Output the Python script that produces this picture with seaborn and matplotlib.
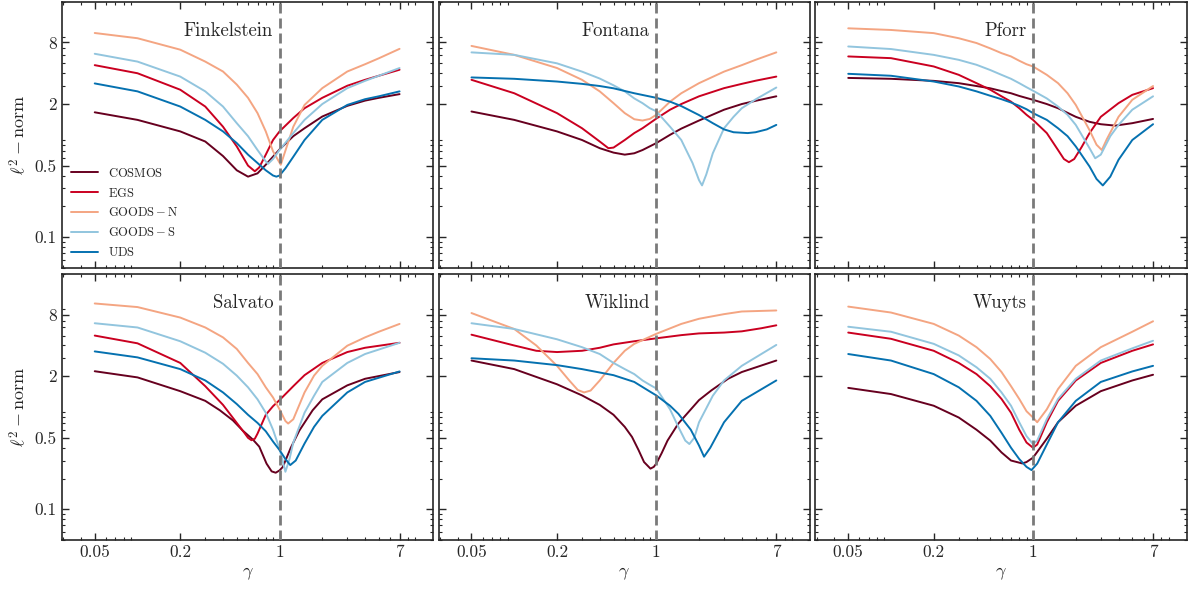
import numpy as np
import pandas as pd
import matplotlib
matplotlib.use("Agg")
import matplotlib.pyplot as plt
from matplotlib.ticker import FixedLocator, LogLocator, NullFormatter
import seaborn as sns

# ---------------- data ----------------
FIELDS = ["COSMOS", "EGS", "GOODS-N", "GOODS-S", "UDS"]
LABELS = [r"$\mathrm{COSMOS}$", r"$\mathrm{EGS}$", r"$\mathrm{GOODS-N}$",
          r"$\mathrm{GOODS-S}$", r"$\mathrm{UDS}$"]
COLORS = ["#67001f", "#ca0020", "#f4a582", "#92c5de", "#0571b0"]
PANELS = ["Finkelstein", "Fontana", "Pforr", "Salvato", "Wiklind", "Wuyts"]

XTICKS = [0.05, 0.2, 1, 7]
XTICK_LABELS = ["0.05", "0.2", "1", "7"]
YTICKS = [0.1, 0.5, 2, 8]
YTICK_LABELS = ["0.1", "0.5", "2", "8"]

finkelstein = {
    "COSMOS": ([0.05, 0.1, 0.2, 0.3, 0.4, 0.5, 0.6, 0.7, 0.8, 1.0, 1.25, 1.5, 2, 3, 4, 5, 7],
               [1.66, 1.40, 1.08, 0.86, 0.62, 0.45, 0.39, 0.42, 0.51, 0.72, 0.97, 1.16, 1.51, 1.92, 2.16, 2.30, 2.50]),
    "EGS": ([0.05, 0.1, 0.2, 0.3, 0.4, 0.5, 0.6, 0.67, 0.72, 0.8, 0.9, 1.0, 1.25, 1.5, 2, 3, 4, 5, 7],
            [4.8, 4.0, 2.76, 1.89, 1.20, 0.77, 0.50, 0.44, 0.48, 0.64, 0.89, 1.08, 1.46, 1.82, 2.30, 3.02, 3.45, 3.78, 4.33]),
    "GOODS-N": ([0.05, 0.1, 0.2, 0.3, 0.4, 0.5, 0.6, 0.7, 0.8, 0.9, 1.02, 1.1, 1.25, 1.5, 2, 3, 4, 5, 7],
                [9.9, 8.8, 6.8, 5.2, 4.16, 3.1, 2.3, 1.63, 1.08, 0.69, 0.51, 0.70, 1.2, 1.96, 2.86, 4.16, 4.9, 5.6, 6.93]),
    "GOODS-S": ([0.05, 0.1, 0.2, 0.3, 0.4, 0.5, 0.6, 0.7, 0.8, 0.83, 0.9, 1.0, 1.25, 1.5, 2, 3, 4, 5, 7],
                [6.2, 5.2, 3.71, 2.66, 1.89, 1.30, 0.97, 0.71, 0.55, 0.52, 0.58, 0.71, 1.04, 1.40, 2.0, 2.86, 3.37, 3.78, 4.5]),
    "UDS": ([0.05, 0.1, 0.2, 0.3, 0.4, 0.5, 0.6, 0.7, 0.8, 0.9, 0.95, 1.0, 1.1, 1.25, 1.5, 2, 3, 4, 5, 7],
            [3.18, 2.66, 1.89, 1.40, 1.08, 0.83, 0.64, 0.53, 0.45, 0.40, 0.39, 0.40, 0.47, 0.61, 0.89, 1.40, 1.96, 2.23, 2.38, 2.66]),
}

fontana = {
    "COSMOS": ([0.05, 0.1, 0.2, 0.3, 0.4, 0.5, 0.6, 0.7, 0.8, 1.0, 1.25, 1.5, 2, 3, 4, 5, 7],
               [1.69, 1.40, 1.08, 0.89, 0.74, 0.67, 0.64, 0.66, 0.71, 0.83, 1.0, 1.15, 1.38, 1.76, 2.0, 2.15, 2.38]),
    "EGS": ([0.05, 0.1, 0.2, 0.3, 0.4, 0.46, 0.5, 0.6, 0.7, 0.8, 0.9, 1.0, 1.25, 1.5, 2, 3, 4, 5, 7],
            [3.45, 2.55, 1.63, 1.16, 0.86, 0.74, 0.75, 0.89, 1.04, 1.16, 1.30, 1.44, 1.76, 2.0, 2.38, 2.86, 3.15, 3.38, 3.71]),
    "GOODS-N": ([0.05, 0.1, 0.2, 0.3, 0.4, 0.5, 0.6, 0.7, 0.8, 0.9, 1.0, 1.25, 1.5, 2, 3, 4, 5, 7],
                [7.4, 6.05, 4.5, 3.45, 2.66, 2.04, 1.63, 1.42, 1.38, 1.43, 1.57, 2.11, 2.55, 3.2, 4.15, 4.8, 5.41, 6.4]),
    "GOODS-S": ([0.05, 0.1, 0.2, 0.3, 0.4, 0.5, 0.6, 0.7, 0.8, 0.9, 1.0, 1.25, 1.5, 1.6, 1.8, 2.0, 2.1, 2.25, 2.5, 3, 3.5, 4, 5, 7],
                [6.4, 6.05, 5.0, 4.15, 3.55, 3.05, 2.66, 2.27, 2.04, 1.82, 1.7, 1.2, 0.89, 0.74, 0.53, 0.36, 0.32, 0.41, 0.66, 1.16, 1.5, 1.82, 2.22, 2.9]),
    "UDS": ([0.05, 0.1, 0.2, 0.3, 0.4, 0.5, 0.7, 1.0, 1.25, 1.5, 2, 2.5, 3, 3.5, 4.4, 5, 6, 7],
            [3.64, 3.53, 3.32, 3.15, 3.0, 2.85, 2.55, 2.3, 2.11, 1.91, 1.56, 1.30, 1.13, 1.06, 1.04, 1.06, 1.13, 1.25]),
}

pforr = {
    "COSMOS": ([0.05, 0.1, 0.2, 0.3, 0.4, 0.5, 0.6, 0.7, 0.8, 1.0, 1.25, 1.5, 2, 2.5, 3, 3.8, 5, 7],
               [3.6, 3.53, 3.37, 3.2, 3.0, 2.85, 2.68, 2.55, 2.4, 2.2, 2.0, 1.82, 1.5, 1.34, 1.27, 1.23, 1.3, 1.43]),
    "EGS": ([0.05, 0.1, 0.2, 0.3, 0.4, 0.5, 0.6, 0.7, 0.8, 0.9, 1.0, 1.25, 1.5, 1.65, 1.79, 1.95, 2.2, 2.5, 3, 4, 5, 7],
            [5.84, 5.62, 4.66, 3.86, 3.2, 2.76, 2.38, 2.11, 1.82, 1.57, 1.40, 1.04, 0.71, 0.58, 0.54, 0.58, 0.76, 1.04, 1.5, 2.04, 2.46, 2.86]),
    "GOODS-N": ([0.05, 0.1, 0.2, 0.3, 0.4, 0.5, 0.6, 0.7, 0.8, 0.9, 1.0, 1.25, 1.5, 1.75, 2, 2.5, 2.8, 3.05, 3.3, 4, 5, 7],
                [11.0, 10.6, 9.87, 8.8, 7.9, 7.0, 6.29, 5.84, 5.3, 4.9, 4.66, 3.86, 3.2, 2.55, 1.96, 1.11, 0.80, 0.71, 0.90, 1.5, 2.2, 3.0]),
    "GOODS-S": ([0.05, 0.1, 0.2, 0.3, 0.4, 0.5, 0.6, 0.7, 0.8, 0.9, 1.0, 1.25, 1.5, 1.75, 2, 2.5, 2.74, 3, 3.5, 4, 5, 7],
                [7.31, 6.9, 6.05, 5.41, 4.84, 4.3, 3.86, 3.53, 3.2, 2.92, 2.7, 2.27, 1.89, 1.57, 1.25, 0.74, 0.59, 0.64, 0.97, 1.25, 1.76, 2.38]),
    "UDS": ([0.05, 0.1, 0.2, 0.3, 0.4, 0.5, 0.6, 0.7, 0.8, 0.9, 1.0, 1.25, 1.5, 1.75, 2, 2.5, 2.8, 3.1, 3.5, 4, 5, 7],
            [3.95, 3.78, 3.32, 2.97, 2.66, 2.41, 2.23, 2.07, 1.92, 1.78, 1.63, 1.40, 1.16, 0.97, 0.77, 0.49, 0.37, 0.32, 0.39, 0.57, 0.89, 1.27]),
}

salvato = {
    "COSMOS": ([0.05, 0.1, 0.2, 0.3, 0.38, 0.47, 0.55, 0.65, 0.72, 0.81, 0.88, 0.94, 1.0, 1.055, 1.2, 1.38, 1.71, 2, 3, 4, 7],
               [2.24, 1.95, 1.43, 1.15, 0.93, 0.74, 0.59, 0.48, 0.41, 0.28, 0.235, 0.228, 0.24, 0.26, 0.40, 0.59, 0.93, 1.19, 1.63, 1.89, 2.2]),
    "EGS": ([0.05, 0.1, 0.2, 0.3, 0.4, 0.5, 0.56, 0.6, 0.634, 0.67, 0.7, 0.8, 0.9, 1.0, 1.25, 1.5, 2, 3, 4, 7],
            [5.0, 4.2, 2.7, 1.6, 1.05, 0.70, 0.57, 0.50, 0.474, 0.49, 0.55, 0.84, 1.02, 1.17, 1.6, 2.05, 2.7, 3.45, 3.8, 4.25]),
    "GOODS-N": ([0.05, 0.1, 0.2, 0.3, 0.4, 0.5, 0.6, 0.7, 0.8, 0.9, 1.0, 1.1, 1.15, 1.25, 1.5, 1.75, 2, 3, 4, 5, 7],
                [10.3, 9.5, 7.5, 6.0, 4.8, 3.7, 2.7, 2.1, 1.56, 1.24, 0.95, 0.73, 0.69, 0.76, 1.39, 2.03, 2.53, 3.98, 4.8, 5.45, 6.5]),
    "GOODS-S": ([0.05, 0.1, 0.2, 0.3, 0.4, 0.5, 0.6, 0.7, 0.8, 0.9, 1.0, 1.05, 1.1, 1.175, 1.25, 1.5, 1.75, 2, 3, 4, 7],
                [6.6, 6.0, 4.4, 3.4, 2.65, 2.03, 1.56, 1.19, 0.88, 0.6, 0.39, 0.30, 0.233, 0.31, 0.45, 0.88, 1.29, 1.76, 2.7, 3.3, 4.25]),
    "UDS": ([0.05, 0.1, 0.2, 0.3, 0.4, 0.5, 0.6, 0.7, 0.8, 0.9, 1.0, 1.1, 1.19, 1.3, 1.5, 1.75, 2, 3, 4, 7],
            [3.5, 3.06, 2.35, 1.82, 1.39, 1.07, 0.84, 0.70, 0.58, 0.46, 0.38, 0.31, 0.271, 0.30, 0.44, 0.64, 0.82, 1.39, 1.76, 2.23]),
}

wiklind = {
    "COSMOS": ([0.05, 0.1, 0.2, 0.3, 0.4, 0.5, 0.6, 0.675, 0.75, 0.82, 0.91, 0.96, 1.0, 1.09, 1.2, 1.43, 2, 2.45, 3.2, 4, 7],
               [2.85, 2.35, 1.67, 1.3, 1.05, 0.84, 0.64, 0.51, 0.38, 0.29, 0.25, 0.26, 0.28, 0.353, 0.47, 0.69, 1.17, 1.46, 1.89, 2.2, 2.85]),
    "EGS": ([0.05, 0.1, 0.143, 0.2, 0.3, 0.4, 0.5, 0.7, 1.0, 1.5, 2, 3, 4, 5.5, 7],
            [5.1, 4.0, 3.55, 3.45, 3.55, 3.8, 4.1, 4.4, 4.7, 5.05, 5.25, 5.35, 5.5, 5.9, 6.3]),
    "GOODS-N": ([0.05, 0.1, 0.143, 0.2, 0.244, 0.28, 0.31, 0.345, 0.4, 0.5, 0.6, 0.7, 1.0, 1.5, 2, 3, 4, 7],
                [8.3, 5.8, 4.0, 2.53, 1.82, 1.47, 1.39, 1.45, 1.82, 2.7, 3.55, 4.15, 5.2, 6.5, 7.3, 8.1, 8.6, 8.8]),
    "GOODS-S": ([0.05, 0.1, 0.2, 0.3, 0.4, 0.5, 0.6, 0.7, 0.8, 0.9, 1.0, 1.25, 1.43, 1.6, 1.71, 1.85, 2, 2.5, 3, 4, 7],
                [6.6, 5.8, 4.6, 3.85, 3.3, 2.7, 2.35, 2.1, 1.82, 1.65, 1.52, 0.95, 0.64, 0.47, 0.435, 0.50, 0.71, 1.29, 1.82, 2.53, 4.05]),
    "UDS": ([0.05, 0.1, 0.2, 0.3, 0.5, 0.7, 0.9, 1.0, 1.25, 1.43, 1.75, 2, 2.17, 2.4, 3, 4, 7],
            [3.0, 2.85, 2.57, 2.35, 2.05, 1.76, 1.42, 1.30, 1.03, 0.86, 0.6, 0.42, 0.327, 0.40, 0.71, 1.15, 1.82]),
}

wuyts = {
    "COSMOS": ([0.05, 0.1, 0.2, 0.3, 0.4, 0.5, 0.6, 0.7, 0.84, 0.9, 1.0, 1.25, 1.5, 2, 3, 5, 7],
               [1.54, 1.34, 1.03, 0.79, 0.6, 0.47, 0.36, 0.30, 0.281, 0.29, 0.32, 0.49, 0.71, 1.03, 1.43, 1.82, 2.07]),
    "EGS": ([0.05, 0.1, 0.2, 0.3, 0.4, 0.5, 0.6, 0.7, 0.8, 0.9, 1.0, 1.07, 1.25, 1.5, 2, 3, 5, 7],
            [5.35, 4.65, 3.55, 2.7, 2.1, 1.6, 1.2, 0.88, 0.6, 0.45, 0.40, 0.43, 0.71, 1.15, 1.82, 2.7, 3.55, 4.1]),
    "GOODS-N": ([0.05, 0.1, 0.2, 0.3, 0.4, 0.5, 0.6, 0.7, 0.8, 0.9, 1.0, 1.07, 1.25, 1.5, 2, 3, 5, 7],
                [9.6, 8.4, 6.5, 5.0, 3.85, 2.95, 2.2, 1.6, 1.2, 0.91, 0.79, 0.71, 0.95, 1.5, 2.53, 3.85, 5.45, 6.9]),
    "GOODS-S": ([0.05, 0.1, 0.2, 0.3, 0.4, 0.5, 0.6, 0.7, 0.8, 0.9, 1.0, 1.07, 1.25, 1.5, 2, 3, 5, 7],
                [6.1, 5.45, 4.15, 3.2, 2.45, 1.89, 1.39, 1.03, 0.71, 0.52, 0.435, 0.47, 0.76, 1.2, 1.89, 2.85, 3.75, 4.45]),
    "UDS": ([0.05, 0.1, 0.2, 0.3, 0.4, 0.5, 0.6, 0.7, 0.8, 0.9, 0.976, 1.07, 1.25, 1.5, 2, 3, 5, 7],
            [3.3, 2.85, 2.1, 1.56, 1.15, 0.82, 0.56, 0.4, 0.31, 0.26, 0.242, 0.28, 0.43, 0.71, 1.15, 1.76, 2.23, 2.53]),
}

PANEL_DATA = [finkelstein, fontana, pforr, salvato, wiklind, wuyts]

# ---------------- style ----------------
sns.set_style("ticks")
plt.rcParams["font.family"] = ["cmr10", "DejaVu Serif"]
plt.rcParams["mathtext.fontset"] = "cm"
plt.rcParams["axes.unicode_minus"] = False
plt.rcParams["axes.formatter.use_mathtext"] = True
plt.rcParams["axes.linewidth"] = 1.2

fig, axes = plt.subplots(2, 3, figsize=(11.88, 5.89), dpi=100, sharex=True, sharey=True)
fig.subplots_adjust(left=0.052, right=0.999, top=0.997, bottom=0.083,
                    wspace=0.014, hspace=0.023)

label_map = dict(zip(FIELDS, LABELS))
palette = dict(zip(LABELS, COLORS))

for i, (ax, name, pdata) in enumerate(zip(axes.flat, PANELS, PANEL_DATA)):
    rows = []
    for f in FIELDS:
        g, v = pdata[f]
        for gg, vv in zip(g, v):
            rows.append({"gamma": gg, "value": vv, "field": label_map[f]})
    df = pd.DataFrame(rows)
    sns.lineplot(data=df, x="gamma", y="value", hue="field", hue_order=LABELS,
                 palette=palette, estimator=None, sort=True, lw=1.4,
                 ax=ax, legend=(i == 0))
    for ln in ax.get_lines():
        ln.set_solid_joinstyle("round")
    ax.set_xscale("log")
    ax.set_yscale("log")
    ax.axvline(1.0, color="#7a7a7a", lw=2.0, ls=(0, (3.6, 1.8)), zorder=5)
    ax.text(0.9, 0.89, name, transform=ax.get_xaxis_transform(),
            ha="right", va="center", fontsize=13.5)
    ax.set_xlabel(r"$\gamma$" if i >= 3 else "", fontsize=13)
    ax.set_ylabel(r"$\ell^2-\mathrm{norm}$" if i % 3 == 0 else "", fontsize=13)
    if i == 0:
        leg = ax.legend(loc="lower left", bbox_to_anchor=(0.0, 0.0), frameon=False,
                        fontsize=9, handlelength=2.2, labelspacing=0.55,
                        borderaxespad=0.3)
        for ln in leg.get_lines():
            ln.set_linewidth(1.4)

for ax in axes.flat:
    ax.set_xlim(0.0293, 12.1)
    ax.set_ylim(0.05, 20)
    ax.xaxis.set_major_locator(FixedLocator(XTICKS))
    ax.yaxis.set_major_locator(FixedLocator(YTICKS))
    ax.xaxis.set_minor_locator(LogLocator(base=10, subs=np.arange(2, 10), numticks=50))
    ax.yaxis.set_minor_locator(LogLocator(base=10, subs=np.arange(2, 10), numticks=50))
    ax.xaxis.set_minor_formatter(NullFormatter())
    ax.yaxis.set_minor_formatter(NullFormatter())
    ax.tick_params(which="both", direction="in", top=True, right=True)
    ax.tick_params(which="major", length=5, width=1.0, labelsize=12.5)
    ax.tick_params(which="minor", length=2.5, width=0.8)

for ax in axes[1, :]:
    ax.set_xticks(XTICKS, labels=XTICK_LABELS)
for ax in axes[:, 0]:
    ax.set_yticks(YTICKS, labels=YTICK_LABELS)
for ax in axes[0, :]:
    ax.tick_params(labelbottom=False)
for ax in axes[:, 1:].flat:
    ax.tick_params(labelleft=False)

fig.savefig("out.png", dpi=100)
